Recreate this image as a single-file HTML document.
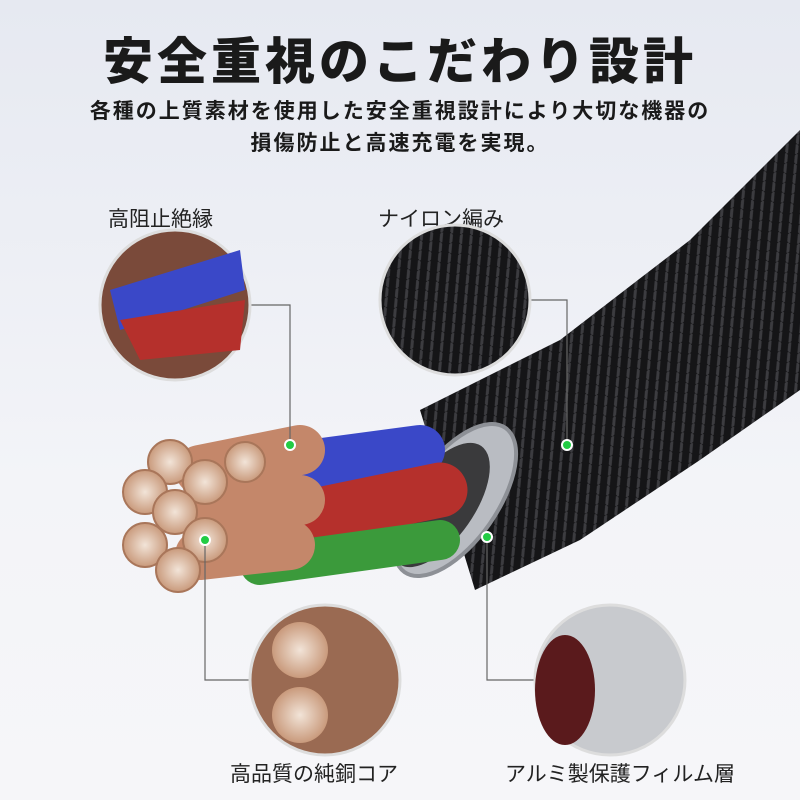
<!DOCTYPE html>
<html><head><meta charset="utf-8"><style>
body{margin:0;width:800px;height:800px;overflow:hidden;background:linear-gradient(#e6e9f1,#f3f4f8 60%,#f6f6f9);font-family:"Liberation Sans","Noto Sans CJK JP",sans-serif;position:relative}
.t{position:absolute;left:0;width:800px;text-align:center;color:#1a1a1a}
.l{position:absolute;font-size:21px;color:#222;white-space:nowrap}
</style></head><body>
<div class="t" style="top:22px;font-size:50px;font-weight:900;letter-spacing:4px">安全重視のこだわり設計</div>
<div class="t" style="top:96px;font-size:21px;line-height:32px;font-weight:bold;letter-spacing:2px">各種の上質素材を使用した安全重視設計により大切な機器の<br>損傷防止と高速充電を実現。</div>
<div class="l" style="left:108px;top:203px">高阻止絶縁</div>
<div class="l" style="left:378px;top:203px">ナイロン編み</div>
<div class="l" style="left:230px;top:758px">高品質の純銅コア</div>
<div class="l" style="left:505px;top:758px">アルミ製保護フィルム層</div>
<svg width="800" height="800" style="position:absolute;left:0;top:0">
<defs>
<pattern id="br" width="14" height="14" patternUnits="userSpaceOnUse" patternTransform="rotate(-40)">
<rect width="14" height="14" fill="#151517"/><path d="M0 7L7 0M7 14L14 7" stroke="#3c3c40" stroke-width="3"/></pattern>
<radialGradient id="cu"><stop offset="0" stop-color="#f2e4d8"/><stop offset="1" stop-color="#c99a7c"/></radialGradient>
</defs>
<path d="M800 130 L690 240 L560 340 L420 410 L475 590 L580 540 L700 460 L800 390Z" fill="url(#br)"/>
<ellipse cx="455" cy="500" rx="42" ry="88" transform="rotate(35 455 500)" fill="#b9bcc2" stroke="#8d9096" stroke-width="4"/>
<ellipse cx="440" cy="505" rx="34" ry="72" transform="rotate(35 440 505)" fill="#3a3a3c"/>
<path d="M420 450 L270 470" stroke="#3a48c8" stroke-width="50" stroke-linecap="round"/>
<path d="M440 490 L270 525" stroke="#b5302c" stroke-width="55" stroke-linecap="round"/>
<path d="M440 540 L260 565" stroke="#3b9a3b" stroke-width="40" stroke-linecap="round"/>
<path d="M300 450 L200 470 M300 500 L200 510 M290 545 L200 555" stroke="#c4876a" stroke-width="50" stroke-linecap="round"/>
<g fill="url(#cu)" stroke="#a9765a" stroke-width="2">
<circle cx="170" cy="462" r="22"/><circle cx="205" cy="482" r="22"/><circle cx="145" cy="492" r="22"/>
<circle cx="175" cy="512" r="22"/><circle cx="145" cy="545" r="22"/><circle cx="205" cy="540" r="22"/>
<circle cx="178" cy="570" r="22"/><circle cx="245" cy="462" r="20"/>
</g>
<g fill="none" stroke="#666" stroke-width="1.2">
<path d="M245 305 H290 V445"/><path d="M530 300 H567 V445"/>
<path d="M205 540 V680 H250"/><path d="M487 537 V680 H535"/>
</g>
<g fill="#22cc44" stroke="#fff" stroke-width="2">
<circle cx="290" cy="445" r="5"/><circle cx="567" cy="445" r="5"/><circle cx="205" cy="540" r="5"/><circle cx="487" cy="537" r="5"/>
</g>
<circle cx="175" cy="305" r="75" fill="#7a4a3a" stroke="#ddd" stroke-width="3"/>
<path d="M110 290 L240 250 L245 290 L120 330Z" fill="#3a48c8"/><path d="M120 320 L245 300 L240 350 L140 360Z" fill="#b5302c"/>
<circle cx="455" cy="300" r="75" fill="url(#br)" stroke="#ddd" stroke-width="3"/>
<circle cx="325" cy="680" r="75" fill="#9a6a52" stroke="#ddd" stroke-width="3"/>
<circle cx="300" cy="650" r="28" fill="url(#cu)"/><circle cx="300" cy="715" r="28" fill="url(#cu)"/>
<circle cx="610" cy="680" r="75" fill="#c8cace" stroke="#ddd" stroke-width="3"/>
<ellipse cx="565" cy="690" rx="30" ry="55" fill="#5a1a1c"/>
</svg>
</body></html>
